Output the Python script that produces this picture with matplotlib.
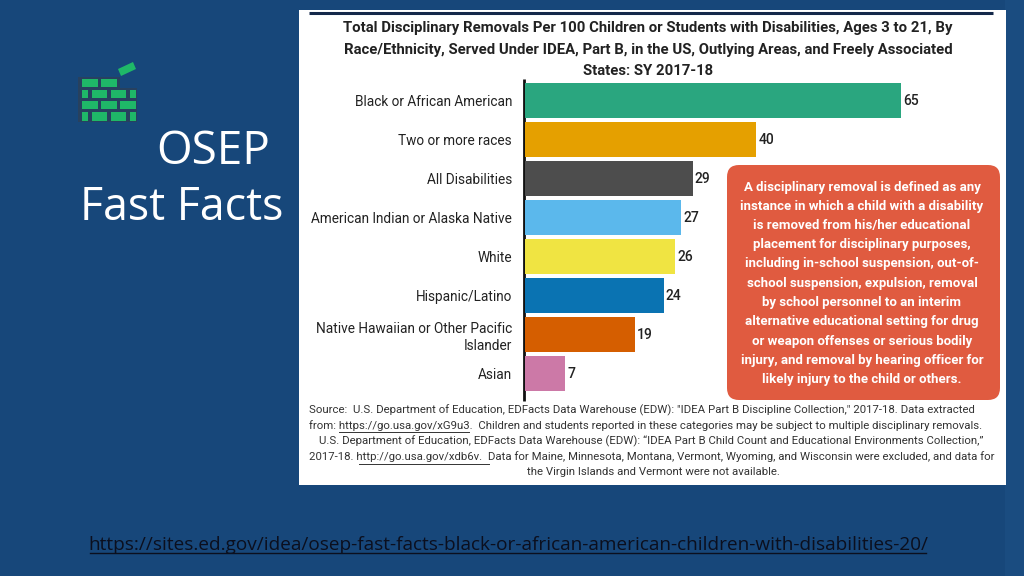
import matplotlib
matplotlib.use("Agg")
import matplotlib.pyplot as plt
from matplotlib.patches import Rectangle, FancyBboxPatch, Polygon

categories = ["Black or African American", "Two or more races", "All Disabilities",
              "American Indian or Alaska Native", "White", "Hispanic/Latino",
              "Native Hawaiian or Other Pacific\nIslander", "Asian"]
values = [65, 40, 29, 27, 26, 24, 19, 7]
colors = ["#2aa67f", "#e5a000", "#4d4d4d", "#5bb8ec", "#f0e442", "#0a73b2", "#d55e00", "#cc79a7"]

title_lines = ["Total Disciplinary Removals Per 100 Children or Students with Disabilities, Ages 3 to 21, By",
               "Race/Ethnicity, Served Under IDEA, Part B, in the US, Outlying Areas, and Freely Associated",
               "States: SY 2017-18"]
box_lines = ["A disciplinary removal is defined as any", "instance in which a child with a disability",
             "is removed from his/her educational", "placement for disciplinary purposes,",
             "including in-school suspension, out-of-", "school suspension, expulsion, removal",
             "by school personnel to an interim", "alternative educational setting for drug",
             "or weapon offenses or serious bodily", "injury, and removal by hearing officer for",
             "likely injury to the child or others."]
source_lines = ['Source:  U.S. Department of Education, EDFacts Data Warehouse (EDW): "IDEA Part B Discipline Collection," 2017-18. Data extracted',
                'from: https://go.usa.gov/xG9u3.  Children and students reported in these categories may be subject to multiple disciplinary removals.',
                'U.S. Department of Education, EDFacts Data Warehouse (EDW): “IDEA Part B Child Count and Educational Environments Collection,”',
                '2017-18. http://go.usa.gov/xdb6v.  Data for Maine, Minnesota, Montana, Vermont, Wyoming, and Wisconsin were excluded, and data for',
                'the Virgin Islands and Vermont were not available.']
url = "https://sites.ed.gov/idea/osep-fast-facts-black-or-african-american-children-with-disabilities-20/"

W, H = 1024, 576
BG = "#17477a"
fig = plt.figure(figsize=(W/100, H/100), dpi=100, facecolor=BG)

bg = fig.add_axes([0, 0, 1, 1])
bg.set_xlim(0, W); bg.set_ylim(H, 0); bg.axis("off")
bg.add_patch(Rectangle((1005, 0), 19, 576, color="#1a4c80", lw=0))
bg.add_patch(Rectangle((299, 10), 707, 475, color="white", lw=0))
bg.plot([309, 993], [13, 13], color="#14284a", lw=2.2, solid_capstyle="butt")

# logo
bg.add_patch(Polygon([(78, 77), (120, 77), (120, 88), (137, 88), (137, 122), (78, 122)],
                     facecolor="#27415f", edgecolor="none"))
rows = [(79, 8, [(82, 15.5), (101, 16)]),
        (90, 8, [(82, 6), (92, 15), (111, 15), (130, 5.5)]),
        (101, 8, [(82, 15.5), (101, 16), (120, 15.5)]),
        (112, 8.5, [(82, 6), (92, 15), (111, 15), (130, 5.5)])]
for y, h, bricks in rows:
    for x, w in bricks:
        bg.add_patch(Rectangle((x, y), w, h, color="#1fb868", lw=0))
bg.add_patch(Polygon([(118, 69), (133, 62), (136, 69), (121, 76)], color="#1fb868", lw=0))

bg.text(213, 152, "OSEP", color="white", fontsize=33, family="Open Sans", ha="center", va="center")
bg.text(182, 208, "Fast Facts", color="white", fontsize=32.2, family="Open Sans", ha="center", va="center")

for i, t in enumerate(title_lines):
    bg.text(648, 28 + i*21.7, t, fontsize=10.75, fontweight="bold", family="Roboto",
            color="#222222", ha="center", va="center")

# chart
x0, y0, x1, y1 = 525, 81, 1024, 393
ax = fig.add_axes([x0/W, 1 - y1/H, (x1-x0)/W, (y1-y0)/H])
ax.patch.set_alpha(0)
pos = list(range(len(values)))
ax.barh(pos, values, height=0.92, color=colors, edgecolor="none")
ax.set_ylim(7.5, -0.5)
ax.set_xlim(0, (x1-x0)/5.785)
ax.set_yticks(pos)
ax.set_yticklabels(categories, fontsize=9.85, family="Roboto", color="#222222", linespacing=1.3)
ax.tick_params(axis="y", length=0, pad=9.4)
ax.set_xticks([])
for s in ["top", "right", "bottom", "left"]:
    ax.spines[s].set_visible(False)
for p, v in zip(pos, values):
    ax.text(v + 0.35, p + 0.02, str(v), va="center", ha="left", fontsize=10, family="Roboto",
            fontweight="medium", color="#222222")
bg.plot([524, 524], [79, 401], color="#111111", lw=2, solid_capstyle="butt", zorder=5)

# callout
fig_box = fig.add_axes([0, 0, 1, 1])
fig_box.set_xlim(0, W); fig_box.set_ylim(H, 0); fig_box.axis("off"); fig_box.patch.set_alpha(0)
fig_box.add_patch(FancyBboxPatch((738, 176), 251, 213, boxstyle="round,pad=11,rounding_size=12", lw=0, color="#e05b40"))
for i, t in enumerate(box_lines):
    fig_box.text(862, 187 + i*19.25, t, color="white", fontsize=9.5, fontweight="bold",
                 family="Roboto", ha="center", va="center")

aligns = [(309, "left"), (309, "left"), (651, "center"), (652, "center"), (653, "center")]
for i, (t, (x, ha)) in enumerate(zip(source_lines, aligns)):
    fig_box.text(x, 410 + i*15.6, t, color="#333333", fontsize=8.22, family="Roboto", ha=ha, va="center")
fig_box.plot([339, 469], [432, 432], color="#333333", lw=0.7)
fig_box.plot([359, 489], [464, 464], color="#333333", lw=0.7)

fig_box.text(508, 545, url, color="#0b0f1e", fontsize=13.66, family="Open Sans", ha="center", va="center")
fig_box.plot([90, 926], [553, 553], color="#0b0f1e", lw=1)

fig.savefig("out.png", dpi=100, facecolor=BG)
